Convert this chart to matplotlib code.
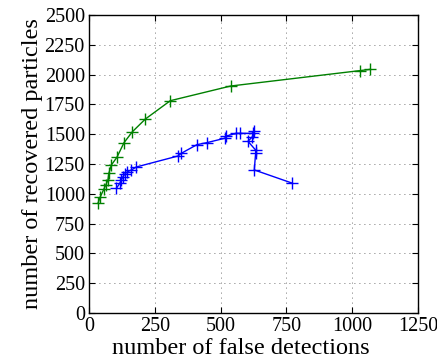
import matplotlib
matplotlib.use("Agg")
import matplotlib.pyplot as plt

# -------------------------------------------------------
# Data
# -------------------------------------------------------

green_x = [34, 43, 56, 64, 72, 76, 85, 106, 133, 165, 214, 309, 538, 1028, 1069]
green_y = [920, 975, 1037, 1075, 1116, 1177, 1242, 1306, 1429, 1521, 1627, 1781, 1904, 2033, 2044]

blue_x = [104, 117, 123, 129, 136, 146, 161, 180, 338, 351, 410, 448, 516, 522,
          560, 573, 623, 626, 621, 604, 633, 633, 628, 771]
blue_y = [1046, 1088, 1116, 1143, 1166, 1185, 1200, 1225, 1317, 1340, 1412, 1429, 1466, 1485,
          1507, 1507, 1507, 1529, 1479, 1440, 1367, 1340, 1200, 1090]

x_ticks = [0, 250, 500, 750, 1000, 1250]
y_ticks = [0, 250, 500, 750, 1000, 1250, 1500, 1750, 2000, 2250, 2500]

# -------------------------------------------------------
# Plot
# -------------------------------------------------------

plt.rcParams["font.family"] = ["Liberation Serif", "DejaVu Serif"]

fig = plt.figure(figsize=(4.37, 3.62), dpi=100)
ax = fig.add_axes([0.2037, 0.1354, 0.7528, 0.8232])

ax.plot(green_x, green_y, color=(0, 0.5, 0), marker="+", markersize=9,
        markeredgewidth=1.0, linewidth=1.0)
ax.plot(blue_x, blue_y, color=(0, 0, 1), marker="+", markersize=9,
        markeredgewidth=1.0, linewidth=1.0)

ax.set_xlim(0, 1250)
ax.set_ylim(0, 2500)
ax.set_xticks(x_ticks)
ax.set_yticks(y_ticks)
ax.tick_params(direction="in", top=True, right=True, labelsize=14.5, length=4, pad=3)
ax.grid(True, linestyle=(0, (1, 5)), color="#444444", linewidth=0.6)

for s in ax.spines.values():
    s.set_linewidth(1.0)

ax.set_xlabel("number of false detections", fontsize=17.5)
ax.set_ylabel("number of recovered particles", fontsize=17.5, labelpad=1)
ax.xaxis.set_label_coords(0.46, -0.085)

fig.savefig("out.png", dpi=100)
